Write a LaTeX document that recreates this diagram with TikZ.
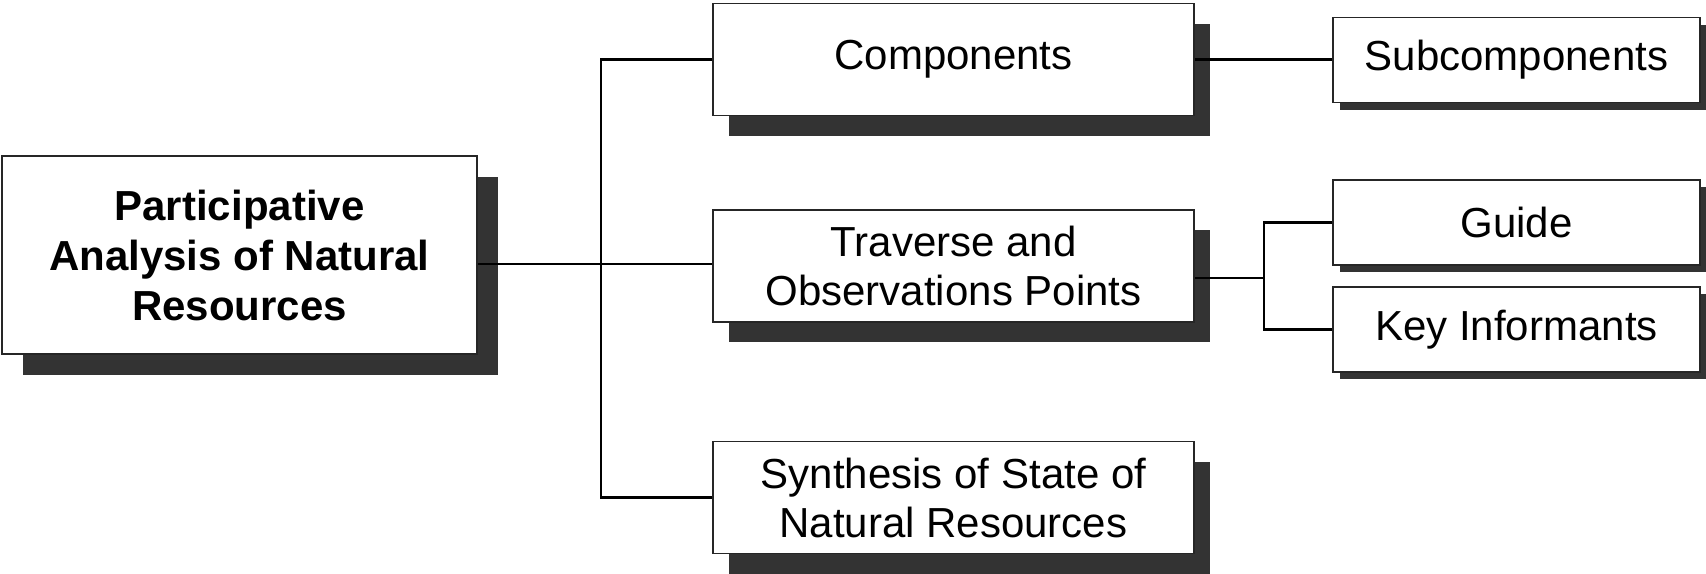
\documentclass[tikz,border=0pt]{standalone}
\usepackage{fontspec}
\setmainfont{Liberation Sans}
\usetikzlibrary{shadows}

\tikzset{
  box/.style={draw=black!85,line width=0.8pt,fill=white,align=center,
    inner sep=2pt,font=\fontsize{21}{24.5}\selectfont},
  rootbox/.style={box,minimum width=237.5pt,minimum height=99pt,
    font=\fontsize{21}{25}\selectfont\bfseries,
    general shadow={fill=black!80,shadow xshift=10.5pt,shadow yshift=-10.5pt}},
  midbox/.style={box,minimum width=240.5pt,minimum height=56pt,
    general shadow={fill=black!80,shadow xshift=8pt,shadow yshift=-10pt}},
  leafbox/.style={box,minimum width=183.5pt,minimum height=42.5pt,
    general shadow={fill=black!80,shadow xshift=3.5pt,shadow yshift=-3.5pt}},
  link/.style={draw=black,line width=1.2pt}
}

\begin{document}
\begin{tikzpicture}[x=0.5pt,y=-0.5pt]
  \useasboundingbox (0,0) rectangle (1706,573);

  % boxes
  \node[rootbox] (main) at (239.5,255) {Participative\\Analysis of Natural\\Resources};
  \node[midbox] (comp) at (953.5,59.5) {Components};
  \node[midbox] (trv) at (953.5,266) {Traverse and\\Observations Points};
  \node[midbox] (syn) at (953.5,497.5) {Synthesis of State of\\Natural Resources};
  \node[leafbox] (sub) at (1516.5,60) {Subcomponents};
  \node[leafbox] (guide) at (1516.5,222.5) {Guide};
  \node[leafbox] (key) at (1516.5,329.5) {Key Informants};

  % connectors
  \coordinate (jn) at (601,264);
  \coordinate (br) at (1264,278);
  \draw[link] (main.east |- jn) -- (trv.west |- jn);
  \draw[link] (comp.west) -| (jn) |- (syn.west);
  \draw[link] (comp.east) -- (sub.west |- comp.east);
  \draw[link] (trv.east |- br) -- (br);
  \draw[link] (guide.west) -| (br) |- (key.west);
\end{tikzpicture}
\end{document}
